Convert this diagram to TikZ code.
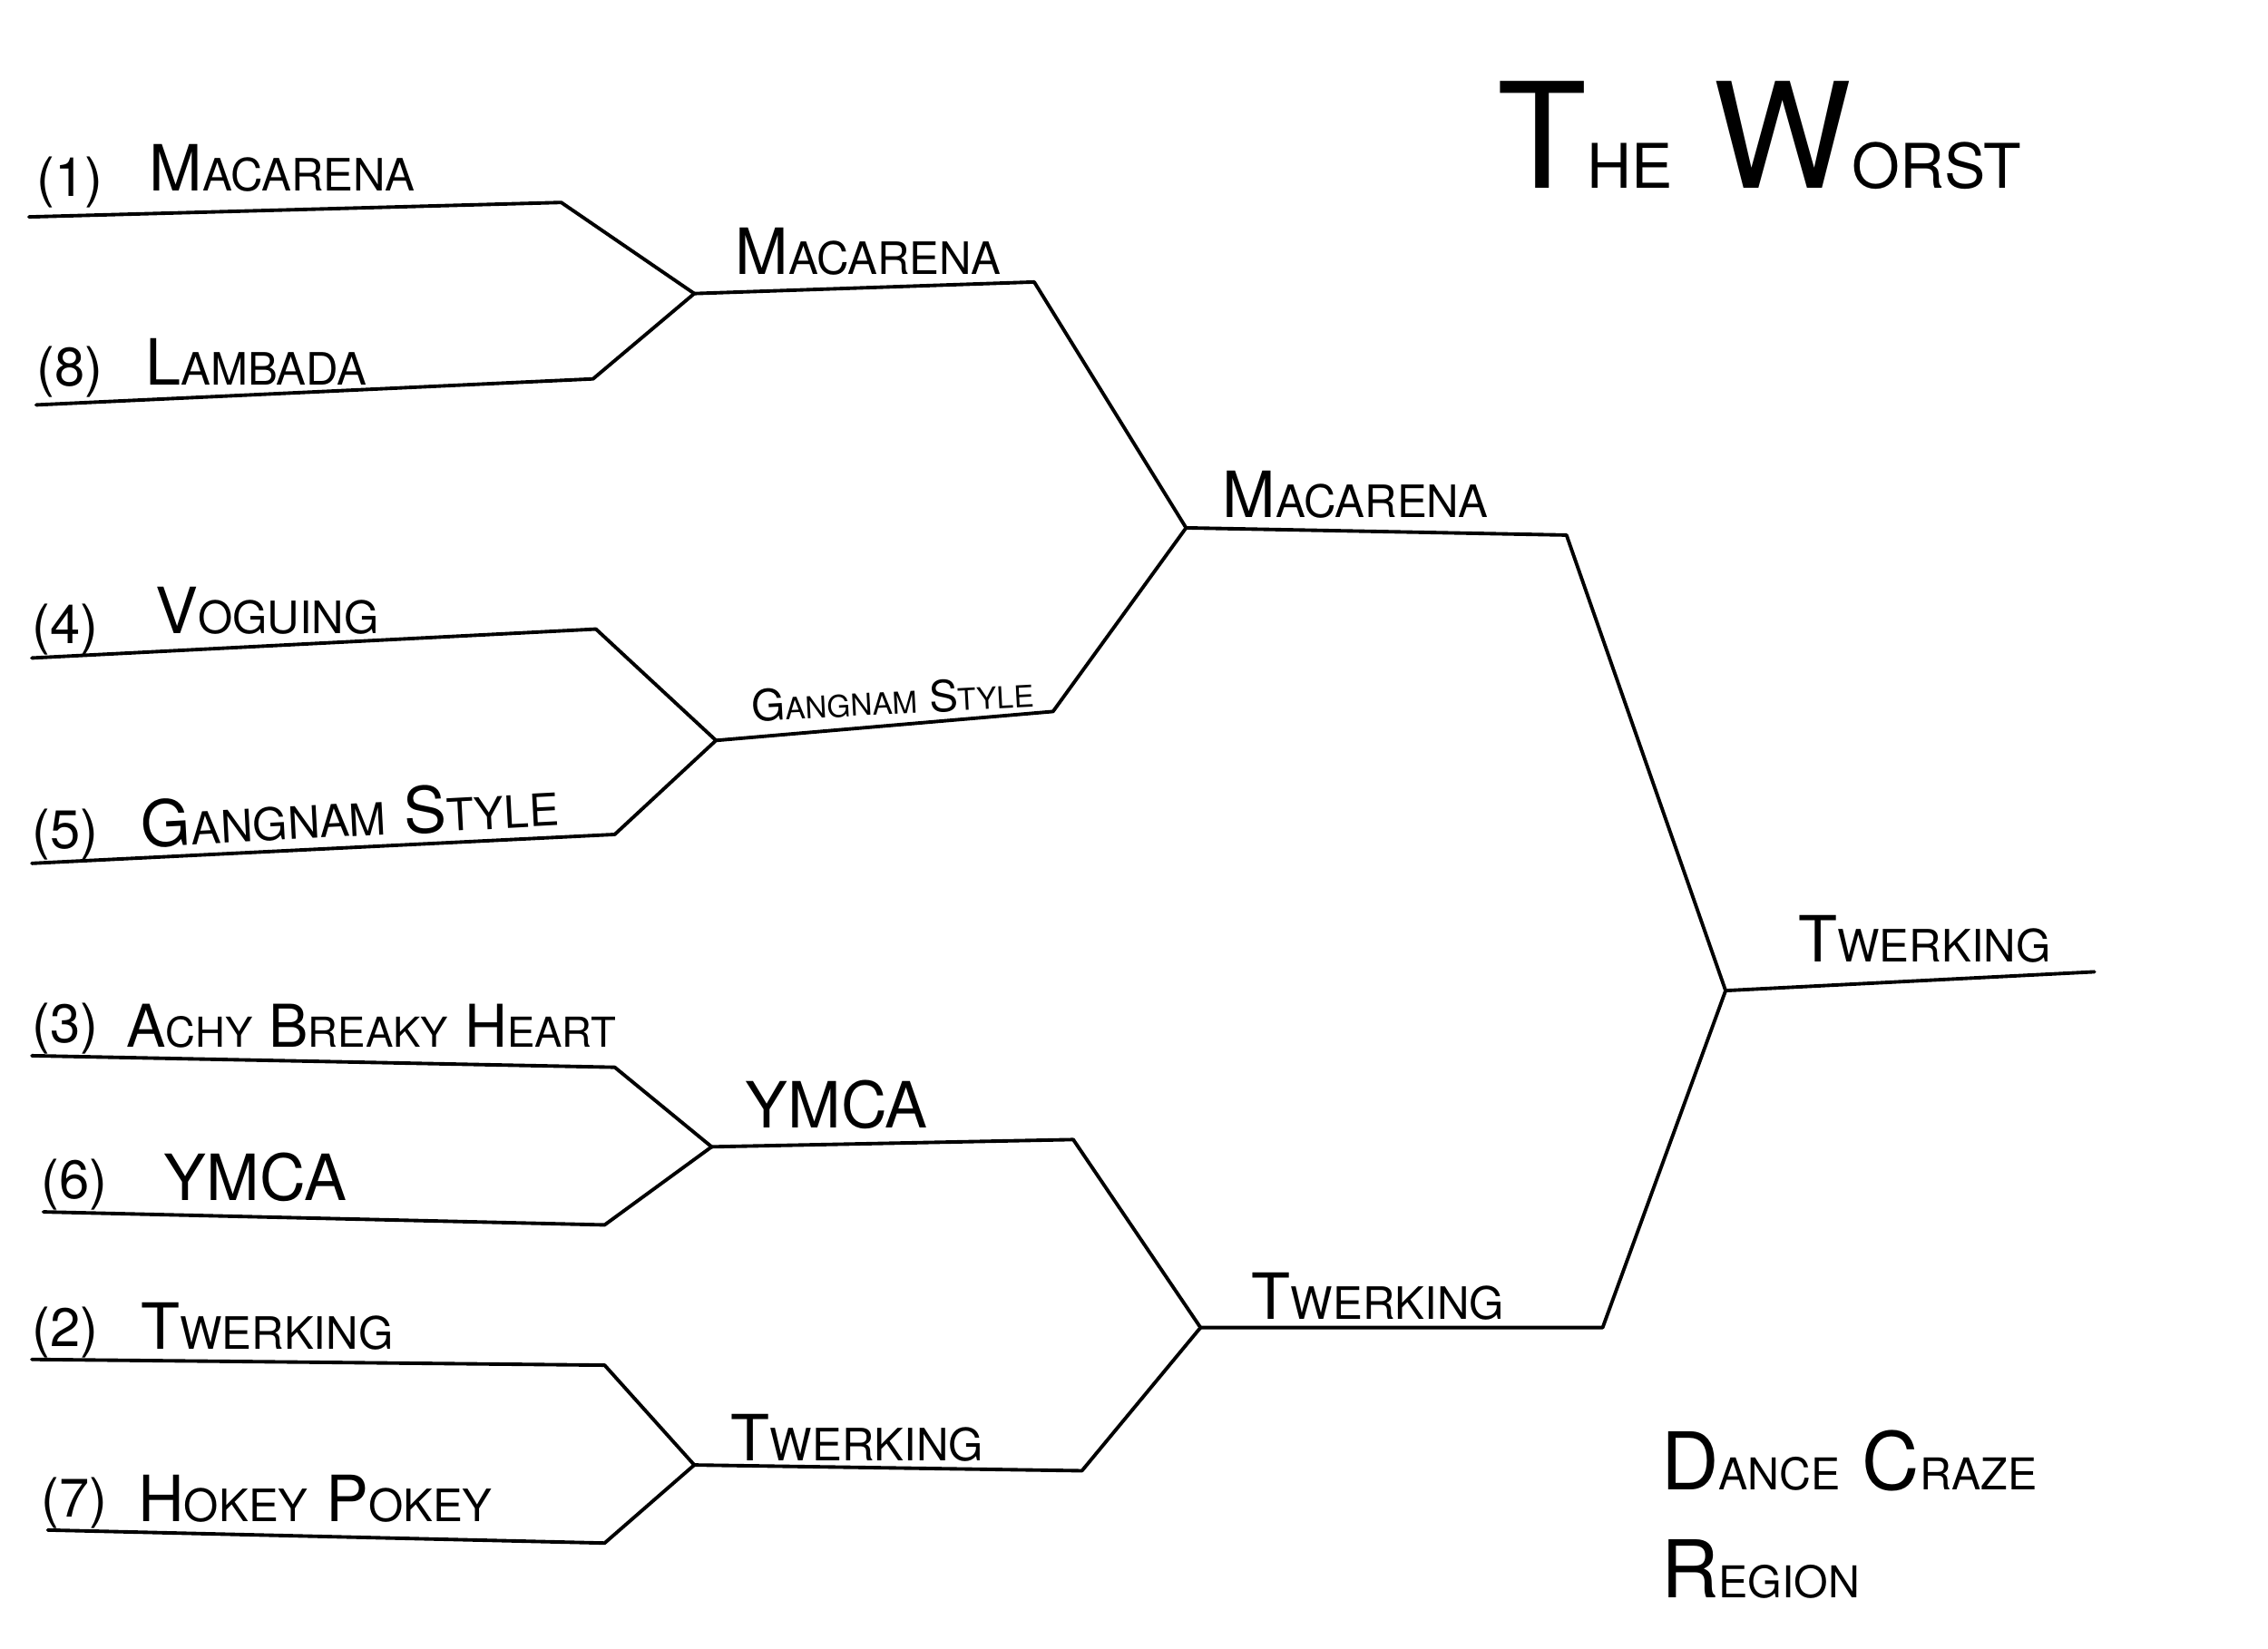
\documentclass[tikz,border=0pt]{standalone}
\usepackage{fontspec}
\setmainfont{TeX Gyre Heros}
\usepackage{graphicx}
\usetikzlibrary{positioning,calc}
% hand-lettered small caps: big first letter, smaller rest
\newcommand\hw[3][0.7]{#2\scalebox{#1}{#3}}

\begin{document}
\begin{tikzpicture}[x=0.015944cm, y=-0.015944cm]
  \tikzset{
    brk/.style={line width=1.1pt, line join=round, line cap=round},
    seed/.style={anchor=base west, inner sep=0pt, font=\fontsize{17}{17}\selectfont},
    lbl/.style={anchor=base west, inner sep=0pt, font=\fontsize{20}{20}\selectfont},
    sml/.style={anchor=base west, inner sep=0pt, font=\fontsize{13.5}{13.5}\selectfont},
    ttl/.style={anchor=base west, inner sep=0pt, font=\fontsize{46}{46}\selectfont},
    reg/.style={anchor=base west, inner sep=0pt, font=\fontsize{25}{25}\selectfont}
  }
  \useasboundingbox (0,0) rectangle (1568,1140);
  % First round lines
  \coordinate (a1) at (20,150);  \coordinate (b1) at (388,140);
  \coordinate (a8) at (25,280);  \coordinate (b8) at (410,262);
  \coordinate (a4) at (22,455);  \coordinate (b4) at (412,435);
  \coordinate (a5) at (22,597);  \coordinate (b5) at (425,577);
  \coordinate (a3) at (22,730);  \coordinate (b3) at (425,738);
  \coordinate (a6) at (30,838);  \coordinate (b6) at (418,847);
  \coordinate (a2) at (22,940);  \coordinate (b2) at (418,944);
  \coordinate (a7) at (33,1058); \coordinate (b7) at (418,1067);
  % Junctions and later rounds
  \coordinate (j18) at (480,203);  \coordinate (e18) at (715,195);
  \coordinate (j45) at (495,512);  \coordinate (e45) at (728,492);
  \coordinate (j36) at (492,793);  \coordinate (e36) at (742,788);
  \coordinate (j27) at (480,1013); \coordinate (e27) at (748,1017);
  \coordinate (k1) at (820,365);   \coordinate (f1) at (1083,370);
  \coordinate (k2) at (830,918);   \coordinate (f2) at (1108,918);
  \coordinate (win) at (1193,685); \coordinate (fin) at (1448,672);
  % Bracket
  \foreach \s in {1,8} \draw[brk] (a\s) -- (b\s) -- (j18);
  \foreach \s in {4,5} \draw[brk] (a\s) -- (b\s) -- (j45);
  \foreach \s in {3,6} \draw[brk] (a\s) -- (b\s) -- (j36);
  \foreach \s in {2,7} \draw[brk] (a\s) -- (b\s) -- (j27);
  \draw[brk] (j18) -- (e18) -- (k1);
  \draw[brk] (j45) -- (e45) -- (k1);
  \draw[brk] (j36) -- (e36) -- (k2);
  \draw[brk] (j27) -- (e27) -- (k2);
  \draw[brk] (k1) -- (f1) -- (win);
  \draw[brk] (k2) -- (f2) -- (win);
  \draw[brk] (win) -- (fin);
  % Seeds
  \foreach \n/\x/\y in {1/25/136,8/25/267,4/22/445,5/22/587,
                        3/22/721,6/28/829,2/22/931,7/28/1049}
    \node[seed] (s\n) at (\x,\y) {(\n)};
  % First round
  \node[lbl] (mac1) at (103,132) {\hw{M}{ACARENA}};
  \node[lbl] (lam8) at (100,266) {\hw{L}{AMBADA}};
  \node[lbl] (vog4) at (107,438) {\hw{V}{OGUING}};
  \node[lbl,rotate=3] (gan5) at (98,586) {\hw{G}{ANGNAM} \hw{S}{TYLE}};
  \node[lbl,font=\fontsize{18.5}{18.5}\selectfont] (ach3) at (87,724)
    {\hw{A}{CHY} \hw{B}{REAKY} \hw{H}{EART}};
  \node[lbl] (ymc6) at (113,830) {YMCA};
  \node[lbl] (twe2) at (97,933) {\hw{T}{WERKING}};
  \node[lbl] (hok7) at (95,1052) {\hw{H}{OKEY} \hw{P}{OKEY}};
  % Second round
  \node[lbl] (mac2) at (508,190) {\hw{M}{ACARENA}};
  \node[sml,rotate=3] (gan2) at (520,499) {\hw{G}{ANGNAM} \hw{S}{TYLE}};
  \node[lbl] (ymc2) at (515,780) {YMCA};
  \node[lbl] (twe2b) at (505,1010) {\hw{T}{WERKING}};
  % Third round and winner
  \node[lbl] (mac3) at (845,358) {\hw{M}{ACARENA}};
  \node[lbl] (twe3) at (865,912) {\hw{T}{WERKING}};
  \node[lbl] (twe4) at (1243,665) {\hw{T}{WERKING}};
  % Titles
  \node[ttl] (title) at (1035,130) {\hw[0.42]{T}{HE} \hw[0.42]{W}{ORST}};
  \node[reg] (dance) at (1148,1030) {\hw[0.55]{D}{ANCE} \hw[0.55]{C}{RAZE}};
  \node[reg] (region) at (1148,1105) {\hw[0.55]{R}{EGION}};
\end{tikzpicture}
\end{document}
